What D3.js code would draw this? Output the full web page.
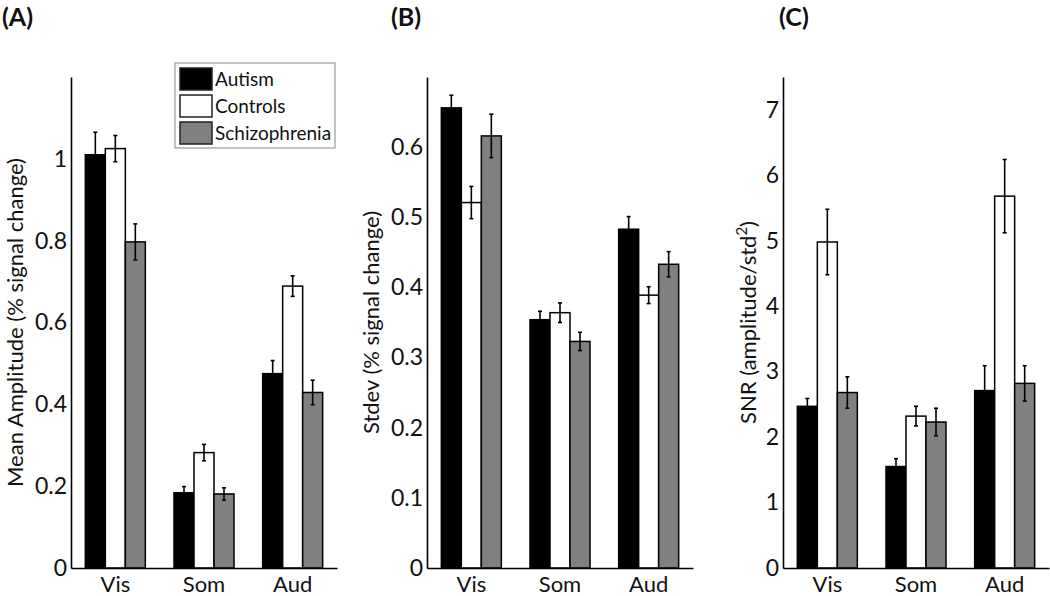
<!DOCTYPE html>
<html>
<head>
<meta charset="utf-8">
<script src="https://cdn.jsdelivr.net/npm/d3@7"></script>
<style>
  html, body { margin: 0; padding: 0; background: #fff; }
  svg { display: block; }
  text { font-family: Lato, "Open Sans", sans-serif; fill: #111; }
</style>
</head>
<body>
<svg id="chart" width="1050" height="596"></svg>
<script>
// categories and series
const groups = ['Vis', 'Som', 'Aud'];
const series = ['Autism', 'Controls', 'Schizophrenia'];
const seriesFill = ['#000000', '#ffffff', '#808080'];

// (A) mean amplitude, rows = series, cols = groups
const ampMean = [[1.01, 0.184, 0.475], [1.025, 0.282, 0.689], [0.797, 0.181, 0.429]];
const ampErr = [[0.055, 0.015, 0.032], [0.032, 0.02, 0.025], [0.044, 0.015, 0.03]];
const ampTicks = [0, 0.2, 0.4, 0.6, 0.8, 1];

// (B) stdev
const sdMean = [[0.656, 0.354, 0.483], [0.521, 0.364, 0.389], [0.616, 0.323, 0.433]];
const sdErr = [[0.018, 0.012, 0.018], [0.023, 0.014, 0.012], [0.031, 0.013, 0.018]];
const sdTicks = [0, 0.1, 0.2, 0.3, 0.4, 0.5, 0.6];

// (C) SNR
const snrMean = [[2.47, 1.55, 2.71], [4.98, 2.32, 5.68], [2.68, 2.23, 2.82]];
const snrErr = [[0.12, 0.12, 0.38], [0.5, 0.15, 0.56], [0.24, 0.21, 0.27]];
const snrTicks = [0, 1, 2, 3, 4, 5, 6, 7];

const svg = d3.select('#chart');
const plotTop = 77, plotBottom = 568, panelW = 266;

function panel(opts) {
  const { left, mean, err, ymax, ticks, title, titleX, labelX, label } = opts;
  const g = svg.append('g');

  const x0 = d3.scaleBand().domain(groups).range([left, left + panelW]).padding(0);
  const x1 = d3.scaleBand().domain(series).range([-30, 30]).padding(0);
  const y = d3.scaleLinear().domain([0, ymax]).range([plotBottom, plotTop]);

  const cells = [];
  series.forEach((s, si) => {
    groups.forEach((grp, gi) => {
      cells.push({ s, si, grp, v: mean[si][gi], e: err[si][gi] });
    });
  });

  // bars
  g.selectAll('rect.bar')
    .data(cells)
    .join('rect')
    .attr('class', 'bar')
    .attr('x', (d) => x0(d.grp) + x0.bandwidth() / 2 + x1(d.s))
    .attr('y', (d) => y(d.v))
    .attr('width', x1.bandwidth())
    .attr('height', (d) => y(0) - y(d.v))
    .attr('fill', (d) => seriesFill[d.si])
    .attr('stroke', '#000')
    .attr('stroke-width', 1.5);

  // error bars
  const eb = g.selectAll('g.err')
    .data(cells)
    .join('g')
    .attr('class', 'err')
    .attr('stroke', '#000')
    .attr('stroke-width', 1.6);
  const cx = (d) => x0(d.grp) + x0.bandwidth() / 2 + x1(d.s) + x1.bandwidth() / 2;
  eb.append('line')
    .attr('x1', cx).attr('x2', cx)
    .attr('y1', (d) => y(d.v + d.e)).attr('y2', (d) => y(d.v - d.e));
  eb.append('line')
    .attr('x1', (d) => cx(d) - 2).attr('x2', (d) => cx(d) + 2)
    .attr('y1', (d) => y(d.v + d.e)).attr('y2', (d) => y(d.v + d.e));
  eb.append('line')
    .attr('x1', (d) => cx(d) - 2).attr('x2', (d) => cx(d) + 2)
    .attr('y1', (d) => y(d.v - d.e)).attr('y2', (d) => y(d.v - d.e));

  // y axis (no tick marks)
  const yAxis = g.append('g')
    .attr('transform', `translate(${left},0)`)
    .call(d3.axisLeft(y).tickValues(ticks).tickSize(0).tickPadding(4).tickFormat(d3.format('~g')));
  yAxis.select('.domain').attr('stroke', '#000').attr('stroke-width', 1.6);
  yAxis.selectAll('text').style('font-size', '23px').attr('fill', '#111');

  // x axis
  const xAxis = g.append('g')
    .attr('transform', `translate(0,${plotBottom})`)
    .call(d3.axisBottom(x0).tickSize(0).tickPadding(8));
  xAxis.select('.domain').attr('stroke', '#000').attr('stroke-width', 1.6);
  xAxis.selectAll('text').style('font-size', '22px').attr('fill', '#111');

  // title
  svg.append('text')
    .attr('x', titleX).attr('y', 26)
    .style('font-size', '25px').style('font-weight', 'bold')
    .text(title);

  // y label
  const yl = svg.append('text')
    .attr('transform', `translate(${labelX},${(plotTop + plotBottom) / 2}) rotate(-90)`)
    .attr('text-anchor', 'middle')
    .style('font-size', '22px');
  label(yl);
  return g;
}

panel({
  left: 71, mean: ampMean, err: ampErr, ymax: 1.2, ticks: ampTicks,
  title: '(A)', titleX: 2, labelX: 23,
  label: (t) => t.text('Mean Amplitude (% signal change)')
});
panel({
  left: 427, mean: sdMean, err: sdErr, ymax: 0.7, ticks: sdTicks,
  title: '(B)', titleX: 391, labelX: 379,
  label: (t) => t.text('Stdev (% signal change)')
});
panel({
  left: 783, mean: snrMean, err: snrErr, ymax: 7.5, ticks: snrTicks,
  title: '(C)', titleX: 779, labelX: 756,
  label: (t) => {
    t.append('tspan').text('SNR (amplitude/std');
    t.append('tspan').attr('dy', -9).style('font-size', '15px').text('2');
    t.append('tspan').attr('dy', 9).text(')');
  }
});

// legend inside panel A
const legend = svg.append('g').attr('transform', 'translate(175,63)');
legend.append('rect')
  .attr('width', 160).attr('height', 85)
  .attr('fill', '#fff').attr('stroke', '#888').attr('stroke-width', 1);
series.forEach((s, i) => {
  const row = legend.append('g').attr('transform', `translate(0,${16 + i * 27})`);
  row.append('rect')
    .attr('x', 5).attr('y', -11).attr('width', 32).attr('height', 22)
    .attr('fill', seriesFill[i]).attr('stroke', '#222').attr('stroke-width', 1.5);
  row.append('text')
    .attr('x', 40).attr('y', 7)
    .style('font-size', '19px')
    .text(s);
});
</script>
</body>
</html>
